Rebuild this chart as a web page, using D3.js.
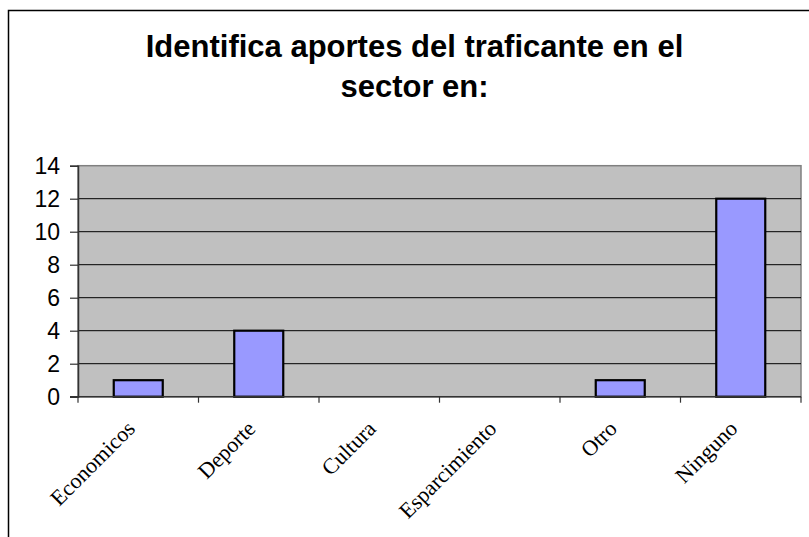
<!DOCTYPE html>
<html>
<head>
<meta charset="utf-8">
<script src="https://cdn.jsdelivr.net/npm/d3@7"></script>
<style>
  html, body { margin: 0; padding: 0; background: #fff; }
  svg { display: block; }
</style>
</head>
<body>
<div id="chart"></div>
<script>
// ============ Data ============
const categories = ['Economicos', 'Deporte', 'Cultura', 'Esparcimiento', 'Otro', 'Ninguno'];
const values = [1, 4, 0, 0, 1, 12];
const yTicks = [0, 2, 4, 6, 8, 10, 12, 14];
const titleLines = ['Identifica aportes del traficante en el', 'sector en:'];

const W = 809, H = 537;
const plot = { left: 78, right: 801, top: 165.7, bottom: 396.7 };

const svg = d3.select('#chart').append('svg')
  .attr('width', W).attr('height', H);

// Outer chart border (left + top, rest is cropped)
svg.append('path')
  .attr('d', `M8.5,${H} L8.5,10.5 L${W},10.5`)
  .attr('fill', 'none')
  .attr('stroke', '#000')
  .attr('stroke-width', 1.5);

// ── Title ──
svg.append('text')
  .attr('x', 414.5).attr('y', 56.7)
  .attr('text-anchor', 'middle')
  .style('font-family', '"Liberation Sans", Arial, sans-serif')
  .style('font-weight', 700)
  .style('font-size', '31px')
  .selectAll('tspan')
  .data(titleLines).enter().append('tspan')
  .attr('x', 414.5)
  .attr('dy', (d, i) => i === 0 ? 0 : 40)
  .text(d => d);

// ── Scales ──
const x = d3.scaleBand()
  .domain(categories)
  .range([plot.left, plot.right])
  .paddingInner(0).paddingOuter(0);

const y = d3.scaleLinear()
  .domain([0, 14])
  .range([plot.bottom, plot.top]);

// Plot area
svg.append('rect')
  .attr('x', plot.left).attr('y', plot.top)
  .attr('width', plot.right - plot.left)
  .attr('height', plot.bottom - plot.top)
  .attr('fill', '#C0C0C0')
  .attr('stroke', '#808080')
  .attr('stroke-width', 1.5);

// Gridlines
svg.append('g')
  .selectAll('line')
  .data(yTicks.filter(t => t > 0 && t < 14)).enter().append('line')
  .attr('x1', plot.left).attr('x2', plot.right)
  .attr('y1', d => y(d)).attr('y2', d => y(d))
  .attr('stroke', '#000')
  .attr('stroke-width', 1);

// ── Bars ──
const barW = 49;
svg.append('g')
  .selectAll('rect')
  .data(values.map((v, i) => ({ cat: categories[i], v })))
  .enter().filter(d => d.v > 0).append('rect')
  .attr('x', d => x(d.cat) + x.bandwidth() / 2 - barW / 2)
  .attr('y', d => y(d.v))
  .attr('width', barW)
  .attr('height', d => y(0) - y(d.v))
  .attr('fill', '#9999FF')
  .attr('stroke', '#000')
  .attr('stroke-width', 2.2);

// ── Y axis ──
const yAxis = svg.append('g')
  .attr('transform', `translate(${plot.left},0)`)
  .call(d3.axisLeft(y).tickValues(yTicks).tickSize(8).tickPadding(10).tickFormat(d3.format('d')));
yAxis.select('.domain').attr('stroke', '#333').attr('stroke-width', 1.5);
yAxis.selectAll('.tick line').attr('stroke', '#333').attr('stroke-width', 1.2);
yAxis.selectAll('.tick text')
  .style('font-family', '"Liberation Sans", Arial, sans-serif')
  .style('font-size', '23px')
  .attr('fill', '#000');

// ── X axis ──
svg.append('line')
  .attr('x1', plot.left - 8).attr('x2', plot.right)
  .attr('y1', plot.bottom).attr('y2', plot.bottom)
  .attr('stroke', '#333').attr('stroke-width', 1.5);

// tick marks at band boundaries
const bounds = categories.map(c => x(c)).concat([plot.right]);
svg.append('g')
  .selectAll('line')
  .data(bounds).enter().append('line')
  .attr('x1', d => d).attr('x2', d => d)
  .attr('y1', plot.bottom).attr('y2', plot.bottom + 6)
  .attr('stroke', '#333').attr('stroke-width', 1.2);

// category labels, rotated
svg.append('g')
  .selectAll('text')
  .data(categories).enter().append('text')
  .attr('transform', d => `translate(${x(d) + x.bandwidth() / 2 - 2},430) rotate(-45)`)
  .attr('text-anchor', 'end')
  .style('font-family', '"Liberation Serif", "Times New Roman", serif')
  .style('font-size', '22px')
  .attr('fill', '#000')
  .text(d => d);
</script>
</body>
</html>
